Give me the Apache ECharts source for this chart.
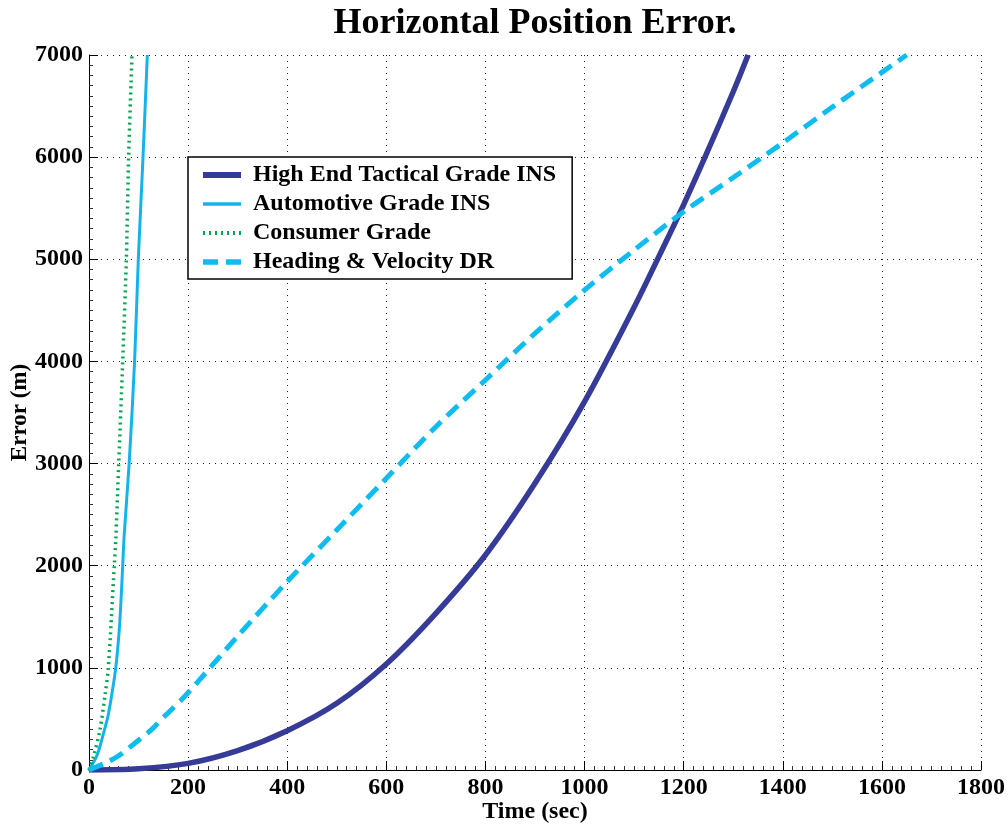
<!DOCTYPE html>
<html>
<head>
<meta charset="utf-8">
<script src="https://cdn.jsdelivr.net/npm/echarts@6/dist/echarts.min.js"></script>
<style>
  html, body { margin: 0; padding: 0; background: #fff; }
  #chart { width: 1008px; height: 826px; }
</style>
</head>
<body>
<div id="chart"></div>
<script>
// values (time in sec, error in m)
const tacticalTime = [0, 100, 200, 300, 400, 500, 600, 700, 800, 900, 1000, 1100, 1166, 1200, 1243, 1300, 1330];
const tacticalError = [0, 12, 65, 190, 385, 653, 1038, 1534, 2105, 2807, 3606, 4530, 5189, 5536, 6000, 6640, 7000];

const automotiveTime = [0, 15, 22, 31, 38, 46, 54, 61, 65, 68, 71, 81, 92, 99.5, 109, 117.7];
const automotiveError = [0, 130, 230, 390, 520, 740, 1000, 1370, 1700, 2000, 2300, 3000, 4000, 5000, 6000, 7000];

const consumerTime = [0, 9, 22, 32, 39, 51, 54, 60, 68, 75.4, 80, 86.8];
const consumerError = [0, 130, 390, 720, 1000, 2000, 2250, 3000, 4000, 5000, 6000, 7000];

const drTime = [0, 36, 62, 98, 125, 155, 189, 219, 300, 400, 500, 600, 700, 800, 900, 1000, 1100, 1200, 1300, 1400, 1500, 1600, 1650];
const drError = [0, 75, 147, 284, 390, 538, 700, 860, 1310, 1844, 2350, 2856, 3361, 3818, 4275, 4699, 5090, 5466, 5800, 6140, 6490, 6830, 7000];

const seriesNames = [
  "High End Tactical Grade INS",
  "Automotive Grade INS",
  "Consumer Grade",
  "Heading & Velocity DR",
];

const zip = (xs, ys) => xs.map((x, i) => [x, ys[i]]);

const chart = echarts.init(document.getElementById("chart"));
const font = "'Liberation Serif', 'Times New Roman', serif";

const styles = [
  { color: "#353b97", width: 5.5, type: "solid" },
  { color: "#14b4ea", width: 3, type: "solid" },
  { color: "#00a651", width: 3.5, type: [2, 4] },
  { color: "#0fbcf0", width: 5, type: [15, 8] },
];

const option = {
  animation: false,
  backgroundColor: "#fff",
  title: {
    text: "Horizontal Position Error.",
    left: 530,
    top: 1,
    textAlign: "center",
    textStyle: { fontFamily: font, fontWeight: "bold", fontSize: 36, color: "#000" },
  },
  grid: { left: 89, right: 27, top: 55, bottom: 56, containLabel: false, outerBoundsMode: "none" },
  legend: {
    orient: "vertical",
    left: 188,
    top: 157,
    padding: [6, 16, 5, 12],
    itemWidth: 38,
    itemHeight: 14,
    itemGap: 5,
    borderColor: "#000",
    borderWidth: 1.5,
    backgroundColor: "#fff",
    itemStyle: { opacity: 0 },
    textStyle: { fontFamily: font, fontWeight: "bold", fontSize: 24, color: "#000", lineHeight: 24, padding: [0, 0, 0, 7] },
    data: seriesNames.map((name, i) => ({
      name,
      lineStyle: { width: styles[i].width + 0.5, type: styles[i].type, cap: "butt" },
    })),
  },
  xAxis: {
    type: "value",
    min: 0,
    max: 1800,
    interval: 200,
    name: "Time (sec)",
    nameLocation: "middle",
    nameGap: 30,
    nameMoveOverlap: false,
    nameTextStyle: { fontFamily: font, fontWeight: "bold", fontSize: 24, color: "#000" },
    axisLine: { show: true, onZero: false, lineStyle: { color: "#000", width: 1 } },
    axisTick: { show: true, inside: true, length: 9, lineStyle: { color: "#000" } },
    minorTick: { show: true, splitNumber: 10, length: 4, lineStyle: { color: "#333" } },
    axisLabel: { fontFamily: font, fontWeight: "bold", fontSize: 24, color: "#000", margin: 6, formatter: (v) => String(v) },
    splitLine: { show: true, lineStyle: { color: "#222", type: [1, 5], width: 1 } },
  },
  yAxis: {
    type: "value",
    min: 0,
    max: 7000,
    interval: 1000,
    name: "Error (m)",
    nameLocation: "middle",
    nameGap: 57,
    nameMoveOverlap: false,
    nameTextStyle: { fontFamily: font, fontWeight: "bold", fontSize: 23, color: "#000" },
    axisLine: { show: true, onZero: false, lineStyle: { color: "#000", width: 1 } },
    axisTick: { show: true, inside: true, length: 9, lineStyle: { color: "#000" } },
    minorTick: { show: true, splitNumber: 10, length: 4, lineStyle: { color: "#333" } },
    axisLabel: { fontFamily: font, fontWeight: "bold", fontSize: 24, color: "#000", margin: 6, formatter: (v) => String(v) },
    splitLine: { show: true, lineStyle: { color: "#222", type: [1, 5], width: 1 } },
  },
  series: [
    [tacticalTime, tacticalError],
    [automotiveTime, automotiveError],
    [consumerTime, consumerError],
    [drTime, drError],
  ].map(([xs, ys], i) => ({
    name: seriesNames[i],
    type: "line",
    symbol: "none",
    smooth: 0.3,
    data: zip(xs, ys),
    lineStyle: { color: styles[i].color, width: styles[i].width, type: styles[i].type, cap: "butt" },
    itemStyle: { color: styles[i].color },
  })),
};

chart.setOption(option);
</script>
</body>
</html>
